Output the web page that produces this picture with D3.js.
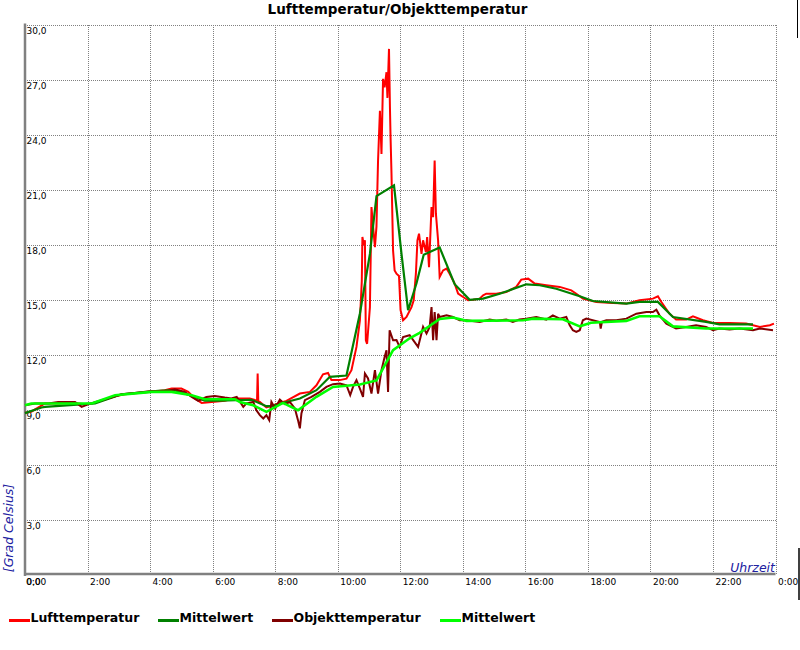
<!DOCTYPE html>
<html><head><meta charset="utf-8">
<script src="https://cdn.jsdelivr.net/npm/d3@7"></script>
<style>
html,body{margin:0;padding:0;background:#fff;}
svg{display:block;font-family:"DejaVu Sans",sans-serif;}
</style></head>
<body>
<svg id="chart" width="800" height="650"></svg>
<script>
const chartTitle = "Lufttemperatur/Objekttemperatur";
const xTicks = [0,2,4,6,8,10,12,14,16,18,20,22,24];
const xTickLabels = ["0:00","2:00","4:00","6:00","8:00","10:00","12:00","14:00","16:00","18:00","20:00","22:00","0:00"];
const yTicks = [0,3,6,9,12,15,18,21,24,27,30];
const yTickLabels = ["0,0","3,0","6,0","9,0","12,0","15,0","18,0","21,0","24,0","27,0","30,0"];
const seriesNames = ["Lufttemperatur","Mittelwert","Objekttemperatur","Mittelwert"];

// [hour, °C]
const luftTemp = [[0,8.84],[0.2,8.9],[0.43,9.13],[0.64,9.35],[1.06,9.35],[1.49,9.38],[1.92,9.3],[2.13,9.35],[2.56,9.56],[2.88,9.74],[3.2,9.85],[3.62,9.92],[4.05,9.98],[4.47,10.07],[4.69,10.16],[5.0,10.16],[5.22,9.98],[5.43,9.62],[5.65,9.38],[5.97,9.43],[6.39,9.49],[6.66,9.62],[7.19,9.62],[7.42,9.5],[7.44,10.98],[7.46,9.45],[7.51,9.43],[7.72,9.13],[7.94,9.25],[8.15,9.38],[8.36,9.49],[8.79,9.89],[9.11,9.98],[9.32,10.34],[9.53,10.94],[9.69,11.01],[9.8,10.62],[10.07,10.62],[10.28,10.7],[10.44,11.16],[10.6,12.43],[10.71,13.88],[10.77,16.0],[10.79,18.42],[10.83,18.0],[10.87,18.24],[10.9,12.79],[10.94,12.6],[11.03,14.6],[11.08,20.05],[11.12,19.2],[11.19,17.87],[11.24,19.0],[11.29,22.59],[11.35,25.3],[11.4,22.95],[11.45,27.04],[11.5,26.58],[11.56,27.4],[11.59,26.0],[11.64,28.67],[11.67,25.5],[11.69,23.86],[11.72,21.87],[11.77,17.69],[11.82,16.6],[11.88,16.42],[11.96,16.3],[12.01,14.43],[12.09,13.88],[12.2,14.06],[12.36,14.6],[12.43,14.97],[12.5,16.42],[12.55,18.24],[12.6,18.6],[12.68,17.5],[12.73,18.24],[12.82,17.6],[12.86,18.42],[12.92,16.78],[13.0,20.05],[13.05,19.5],[13.1,22.59],[13.14,19.69],[13.21,18.24],[13.26,16.24],[13.37,16.6],[13.48,16.7],[13.58,16.42],[13.74,15.88],[13.85,15.33],[14.01,15.15],[14.17,14.97],[14.33,15.0],[14.54,15.06],[14.65,15.24],[14.75,15.33],[15.07,15.33],[15.39,15.42],[15.71,15.7],[15.87,16.1],[16.09,16.15],[16.3,15.88],[16.67,15.79],[17.1,15.7],[17.47,15.51],[17.63,15.33],[17.84,15.06],[18.27,14.88],[18.8,14.82],[19.23,14.79],[19.65,14.97],[20.08,15.06],[20.24,15.19],[20.35,14.88],[20.61,14.24],[20.82,13.92],[21.14,13.92],[21.36,14.1],[21.68,13.88],[22.0,13.73],[22.53,13.73],[23.06,13.7],[23.5,13.52],[23.82,13.61],[23.95,13.7]];

const luftMittel = [[0,8.82],[0.53,9.13],[0.64,9.16],[2.24,9.35],[3.09,9.85],[4.26,10.03],[4.79,10.07],[5.43,9.7],[5.75,9.5],[6.23,9.5],[7.24,9.55],[7.72,9.2],[7.88,9.2],[8.36,9.43],[8.79,9.62],[9.32,10.07],[9.75,10.8],[10.28,10.87],[10.71,14.25],[11.03,17.5],[11.24,20.65],[11.8,21.23],[12.04,17.5],[12.25,14.43],[12.52,15.9],[12.75,17.45],[13.26,17.85],[13.74,15.85],[14.22,15.0],[14.65,15.06],[15.18,15.33],[16.03,15.84],[16.46,15.79],[16.99,15.6],[17.74,15.19],[18.16,14.93],[19.23,14.79],[19.65,14.88],[20.24,14.88],[20.72,14.06],[21.78,13.79],[22.21,13.66],[23.28,13.66]];

const objektTemp = [[0,9.25],[0.32,9.35],[0.75,9.35],[1.06,9.43],[1.6,9.43],[1.81,9.16],[2.02,9.3],[2.45,9.52],[2.88,9.74],[3.09,9.85],[3.51,9.92],[4.05,10.03],[4.58,10.03],[4.79,10.12],[5.11,9.98],[5.33,9.7],[5.54,9.49],[5.8,9.7],[6.07,9.76],[6.39,9.67],[6.6,9.62],[6.77,9.71],[6.98,9.16],[7.08,9.35],[7.3,9.43],[7.4,8.98],[7.51,8.71],[7.62,8.53],[7.72,8.71],[7.81,8.44],[7.88,9.43],[8.0,9.07],[8.15,9.56],[8.31,9.31],[8.47,9.43],[8.63,9.07],[8.73,8.44],[8.79,7.99],[8.84,8.8],[8.95,9.53],[9.16,9.71],[9.43,9.98],[9.64,10.25],[9.85,10.4],[10.07,10.43],[10.28,10.34],[10.4,9.8],[10.49,10.25],[10.6,10.62],[10.71,10.16],[10.81,9.7],[10.87,10.98],[10.97,10.71],[11.08,9.89],[11.19,11.16],[11.29,9.89],[11.4,11.16],[11.5,11.88],[11.56,12.25],[11.61,9.98],[11.66,13.34],[11.77,12.79],[11.88,12.8],[11.98,12.43],[12.09,12.97],[12.3,13.07],[12.57,12.43],[12.73,13.52],[12.84,13.16],[12.94,13.52],[13.0,14.6],[13.05,12.79],[13.1,14.33],[13.16,12.79],[13.21,14.24],[13.26,14.06],[13.48,14.15],[13.69,14.06],[13.9,13.88],[14.12,13.88],[14.54,13.79],[14.86,13.92],[15.07,13.85],[15.39,13.92],[15.6,13.79],[15.81,13.92],[16.03,13.97],[16.35,14.06],[16.67,13.92],[16.88,14.15],[17.1,13.97],[17.31,14.06],[17.42,13.61],[17.52,13.34],[17.63,13.25],[17.74,13.34],[17.84,13.88],[17.95,13.97],[18.38,13.79],[18.41,13.43],[18.45,13.8],[18.59,13.88],[18.91,13.88],[19.23,13.97],[19.55,14.24],[19.87,14.33],[20.08,14.33],[20.19,14.46],[20.29,14.15],[20.51,13.7],[20.82,13.43],[21.14,13.52],[21.46,13.61],[21.78,13.52],[22.0,13.34],[22.21,13.43],[22.53,13.38],[22.85,13.43],[23.28,13.34],[23.5,13.43],[23.92,13.34]];

const objektMittel = [[0,9.25],[0.2,9.35],[2.13,9.35],[2.88,9.8],[4.05,9.98],[4.69,9.98],[5.33,9.8],[5.75,9.58],[6.71,9.58],[6.87,9.43],[7.3,9.25],[7.72,8.89],[8.25,9.38],[8.73,8.98],[9.32,9.71],[9.85,10.25],[10.71,10.38],[11.24,10.6],[11.77,12.25],[12.3,12.9],[12.62,13.2],[13.26,13.95],[13.69,14.03],[14.12,13.85],[15.93,13.88],[16.25,13.97],[17.2,13.94],[17.74,13.55],[18.1,13.75],[19.23,13.85],[19.65,14.1],[20.29,14.1],[20.72,13.55],[21.78,13.43],[23.28,13.43]];

const colors = ["#ff0000","#008000","#800000","#00ff00"];

const svg = d3.select("#chart");
const pL = 25, pR = 775.5, pT = 24.5, pB = 575;
const x = d3.scaleLinear().domain([0,24]).range([pL,pR]);
const y = d3.scaleLinear().domain([0,30]).range([pB,pT]);

// title
svg.append("text").attr("x",397.5).attr("y",13.5).attr("text-anchor","middle")
  .style("font-weight","bold").style("font-size","13.5px").attr("fill","#000").text(chartTitle);

// grid
const grid = svg.append("g").attr("stroke","#808080").attr("stroke-width",1).attr("stroke-dasharray","1,1").attr("shape-rendering","crispEdges");
xTicks.slice(1).forEach(t=>{
  grid.append("line").attr("x1",Math.round(x(t))+0.5).attr("x2",Math.round(x(t))+0.5).attr("y1",pT).attr("y2",pB);
});
yTicks.slice(1).forEach(t=>{
  grid.append("line").attr("x1",pL).attr("x2",pR).attr("y1",Math.round(y(t))+0.5).attr("y2",Math.round(y(t))+0.5);
});

// axes lines
svg.append("line").attr("x1",pL).attr("x2",pL).attr("y1",pT-1).attr("y2",pB+1)
  .attr("stroke","#808080").attr("stroke-width",2.5);
svg.append("line").attr("x1",pL).attr("x2",pR).attr("y1",pB-1).attr("y2",pB-1)
  .attr("stroke","#808080").attr("stroke-width",2.5);

// tick labels
svg.append("g").selectAll("text").data(yTicks).join("text")
  .attr("x",pL+1.5).attr("y",d=>y(d)+9.5).style("font-size","9px").attr("fill","#000")
  .text((d,i)=>yTickLabels[i]);
svg.append("g").selectAll("text").data(xTicks).join("text")
  .attr("x",d=>x(d)+ (d===0?1:2.5)).attr("y",pB+9.5).style("font-size","9px").attr("fill","#000")
  .text((d,i)=>xTickLabels[i]);

// axis titles
svg.append("text").attr("transform","translate(12.5,528) rotate(-90)").attr("text-anchor","middle")
  .style("font-style","italic").style("font-size","12.5px").attr("fill","#2020a0").text("[Grad Celsius]");
svg.append("text").attr("x",775).attr("y",572).attr("text-anchor","end")
  .style("font-style","italic").style("font-size","12.5px").attr("fill","#2020a0").text("Uhrzeit");

// series
const line = d3.line().x(d=>x(d[0])).y(d=>y(d[1]));
const series = [luftTemp, luftMittel, objektTemp, objektMittel];
const widths = [2,2.2,2,2.6];
series.forEach((s,i)=>{
  svg.append("path").attr("d",line(s)).attr("fill","none").attr("stroke",colors[i])
    .attr("stroke-width",widths[i]).attr("stroke-linejoin","miter");
});

// legend
const legendX = [9,158,272,440];
const lg = svg.append("g");
seriesNames.forEach((n,i)=>{
  lg.append("line").attr("x1",legendX[i]).attr("x2",legendX[i]+21).attr("y1",620.5).attr("y2",620.5)
    .attr("stroke",colors[i]).attr("stroke-width",3);
  lg.append("text").attr("x",legendX[i]+21.5).attr("y",621.5).style("font-weight","bold")
    .style("font-size","12.5px").attr("fill","#000").text(n);
});

// frame fragments at the right border
svg.append("line").attr("x1",799).attr("x2",799).attr("y1",548).attr("y2",600).attr("stroke","#000").attr("stroke-width",1.5);
svg.append("line").attr("x1",797.5).attr("x2",797.5).attr("y1",0).attr("y2",38).attr("stroke","#000").attr("stroke-width",1);
</script>
</body></html>
